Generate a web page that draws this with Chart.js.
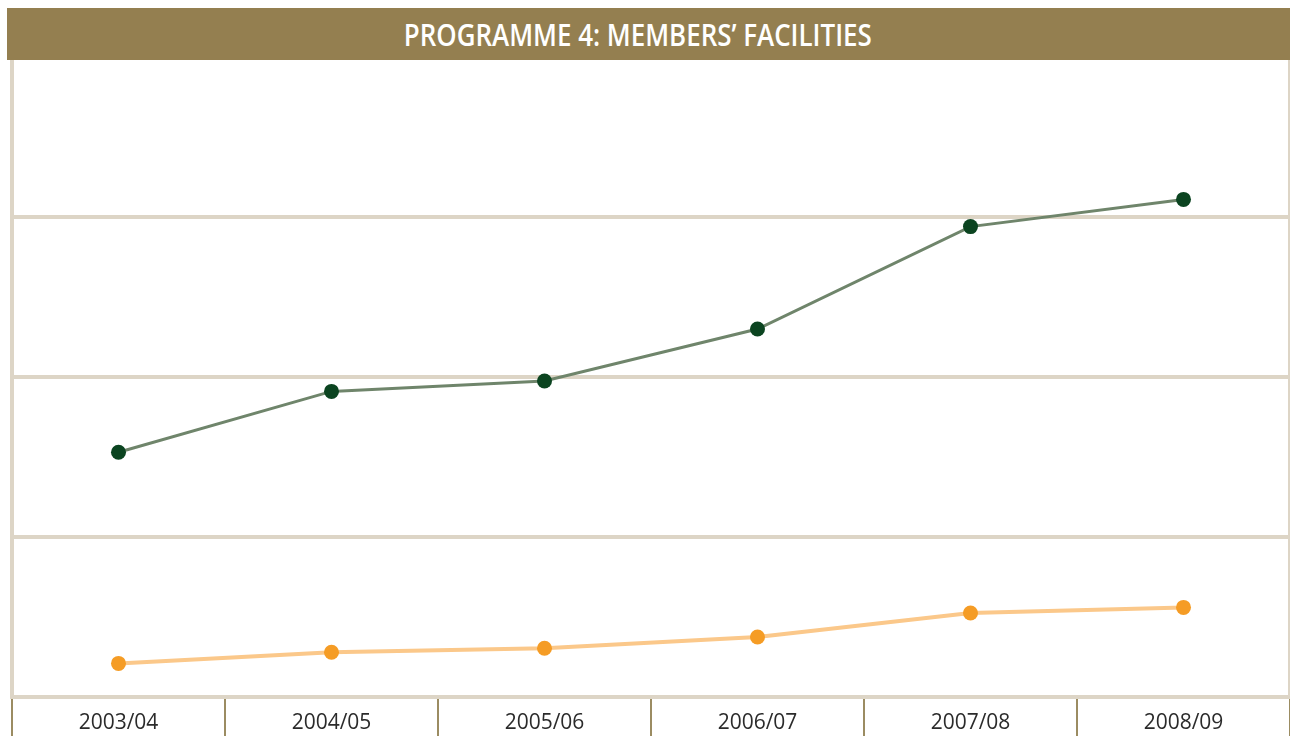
<!DOCTYPE html>
<html>
<head>
<meta charset="utf-8">
<script src="https://cdn.jsdelivr.net/npm/chart.js@4.4.0/dist/chart.umd.min.js"></script>
<style>
  html, body { margin: 0; padding: 0; background: #fff; }
  #wrap { position: relative; width: 1290px; height: 736px; }
  #title {
    position: absolute; left: 7px; top: 8px; width: 1283px; height: 52px;
    background: #947f50; color: #fff;
    font-family: "Open Sans", sans-serif;
    font-weight: 600; font-size: 31px; line-height: 52px;
    text-align: center; box-sizing: border-box; padding-right: 22px;
    white-space: nowrap; overflow: hidden;
  }
  #title span { display: inline-block; transform-origin: center; }
  #canvas { position: absolute; left: 0; top: 0; }
</style>
</head>
<body>
<div id="wrap">
  <canvas id="canvas" width="1290" height="736"></canvas>
  <div id="title"><span id="titleText">PROGRAMME 4: MEMBERS’ FACILITIES</span></div>
</div>
<script>
const years = ["2003/04", "2004/05", "2005/06", "2006/07", "2007/08", "2008/09"];
const upperSeries = [15.3, 19.1, 19.75, 23.0, 29.4, 31.1];
const lowerSeries = [2.1, 2.8, 3.05, 3.75, 5.25, 5.6];
const yTicks = [0, 10, 20, 30];
const yMax = 39.75;

const beige = "#ddd5c6";
const olive = "#9b8c62";

// squeeze the title to the condensed width of the original
const t = document.getElementById("titleText");
t.style.transform = "scaleX(" + (468 / t.getBoundingClientRect().width) + ")";

// thin olive dividers between the year cells under the plot
const cellDividers = {
  id: 'cellDividers',
  afterDraw(chart) {
    const x = chart.scales.x;
    const ctx = chart.ctx;
    const step = x.getPixelForValue(1) - x.getPixelForValue(0);
    ctx.save();
    ctx.strokeStyle = olive;
    ctx.lineWidth = 2;
    for (let i = 0; i <= years.length; i++) {
      const px = Math.round(x.getPixelForValue(i) - step / 2);
      ctx.beginPath();
      ctx.moveTo(px, chart.chartArea.bottom + 2);
      ctx.lineTo(px, chart.height);
      ctx.stroke();
    }
    ctx.restore();
  }
};

const chart = new Chart(document.getElementById("canvas"), {
  type: 'line',
  data: {
    labels: years,
    datasets: [
      {
        data: upperSeries,
        borderColor: "#6f856b",
        borderWidth: 3,
        pointRadius: 7.5,
        pointBackgroundColor: "#0b4420",
        pointBorderWidth: 0,
        tension: 0
      },
      {
        data: lowerSeries,
        borderColor: "#fbc88a",
        borderWidth: 4,
        pointRadius: 7.5,
        pointBackgroundColor: "#f59c25",
        pointBorderWidth: 0,
        tension: 0
      }
    ]
  },
  plugins: [cellDividers],
  options: {
    responsive: false,
    animation: false,
    layout: { autoPadding: false, padding: { top: 61, left: 12, right: 0, bottom: 0 } },
    plugins: {
      legend: { display: false },
      title: { display: false },
      tooltip: { enabled: false }
    },
    scales: {
      x: {
        offset: true,
        afterFit: (axis) => { axis.height = 39; },
        border: { display: false },
        grid: { display: false },
        ticks: {
          padding: 5,
          color: "#2b2b2b",
          font: { family: "'Open Sans'", size: 21 }
        }
      },
      y: {
        min: 0,
        max: yMax,
        afterBuildTicks: (axis) => { axis.ticks = yTicks.map(v => ({ value: v })); },
        afterFit: (axis) => { axis.width = 0; },
        border: { display: true, color: beige, width: 4 },
        grid: { color: beige, lineWidth: 4, drawTicks: false },
        ticks: { display: false }
      },
      y1: {
        position: 'right',
        display: true,
        afterFit: (axis) => { axis.width = 0; },
        border: { display: true, color: beige, width: 4 },
        grid: { drawOnChartArea: false, drawTicks: false },
        ticks: { display: false }
      }
    }
  }
});
</script>
</body>
</html>
